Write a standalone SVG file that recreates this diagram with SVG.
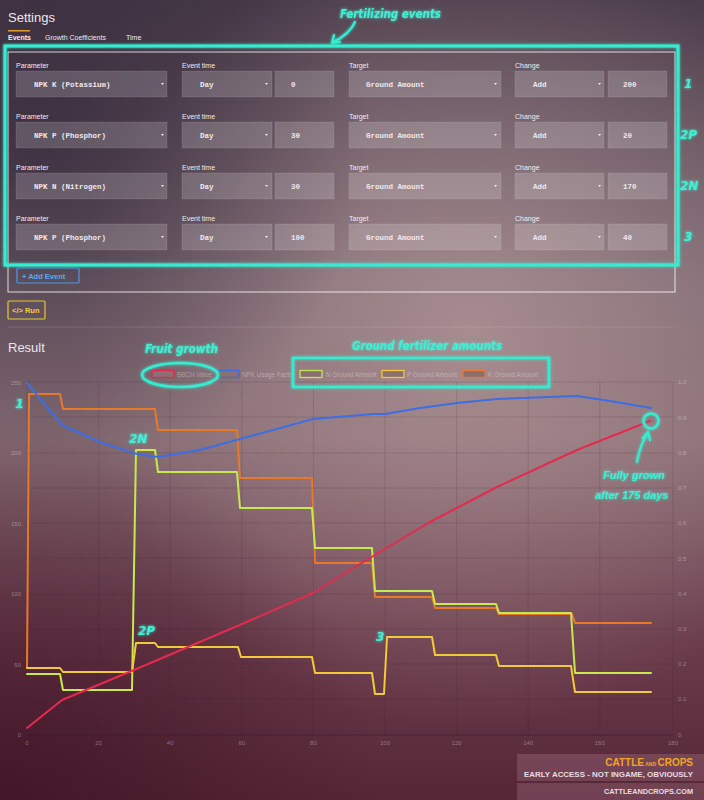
<svg xmlns="http://www.w3.org/2000/svg" width="704" height="800" viewBox="0 0 704 800">
<defs>
<linearGradient id="bgv" x1="0" y1="0" x2="0" y2="1">
<stop offset="0" stop-color="#4a3c4a"/>
<stop offset="0.35" stop-color="#7a6670"/>
<stop offset="0.55" stop-color="#846a72"/>
<stop offset="0.8" stop-color="#6a3c4c"/>
<stop offset="1" stop-color="#552636"/>
</linearGradient>
<radialGradient id="hl" cx="470" cy="330" r="400" gradientUnits="userSpaceOnUse">
<stop offset="0" stop-color="#c8aaa8" stop-opacity="0.55"/>
<stop offset="1" stop-color="#c8aaa8" stop-opacity="0"/>
</radialGradient>
<radialGradient id="tl" cx="40" cy="140" r="330" gradientUnits="userSpaceOnUse">
<stop offset="0" stop-color="#2a2032" stop-opacity="0.65"/>
<stop offset="1" stop-color="#2a2032" stop-opacity="0"/>
</radialGradient>
<radialGradient id="bl" cx="0" cy="800" r="380" gradientUnits="userSpaceOnUse">
<stop offset="0" stop-color="#3a1020" stop-opacity="0.7"/>
<stop offset="1" stop-color="#3a1020" stop-opacity="0"/>
</radialGradient>
<filter id="glow" x="-30%" y="-30%" width="160%" height="160%">
<feGaussianBlur in="SourceGraphic" stdDeviation="1.6" result="b"/>
<feMerge><feMergeNode in="b"/><feMergeNode in="SourceGraphic"/></feMerge>
</filter>
<style>
.lbl{font-family:"Liberation Sans",Arial,sans-serif;font-size:7px;fill:#f2eaee}
.fld{fill:#ffffff;fill-opacity:0.18;stroke:#ffffff;stroke-opacity:0.12;stroke-width:0.8}
.ftx{font-family:"Liberation Mono","DejaVu Sans Mono",monospace;font-size:7.5px;font-weight:bold;fill:#f0e8ec}
.dd{fill:#f0e8ec}
.ann{font-family:"DejaVu Sans",sans-serif;font-weight:bold;font-style:italic;fill:#40f0d4;filter:url(#glow)}
.annw{font-family:"Liberation Sans",Arial,sans-serif;font-size:11px;font-weight:bold;font-style:italic;fill:#40f0d4;filter:url(#glow)}
.cy{fill:none;stroke:#36ecd0;filter:url(#glow)}
.grid{stroke:#3a2030;stroke-opacity:0.22;stroke-width:0.7}
.ax{font-family:"Liberation Sans",Arial,sans-serif;font-size:6px;fill:#ffffff;fill-opacity:0.35}
.lg{font-family:"Liberation Sans",Arial,sans-serif;font-size:6.3px;fill:#ffffff;fill-opacity:0.35}
.line{fill:none;stroke-width:2;stroke-linejoin:round;stroke-linecap:round}
</style>
</defs>

<rect x="0" y="0" width="704" height="800" fill="url(#bgv)"/>
<rect x="0" y="0" width="704" height="800" fill="url(#hl)"/>
<rect x="0" y="0" width="704" height="800" fill="url(#tl)"/>
<rect x="0" y="0" width="704" height="800" fill="url(#bl)"/>

<g id="header">
<text x="8" y="22" font-family="Liberation Sans,Arial,sans-serif" font-size="13" fill="#eee6ec">Settings</text>
<text x="8" y="40" font-family="Liberation Sans,Arial,sans-serif" font-size="7" font-weight="bold" fill="#f4eef2">Events</text>
<rect x="8" y="30" width="22" height="1.5" fill="#e0a030"/>
<text x="45" y="40" font-family="Liberation Sans,Arial,sans-serif" font-size="7" fill="#f0e8ee">Growth Coefficients</text>
<text x="126" y="40" font-family="Liberation Sans,Arial,sans-serif" font-size="7" fill="#f0e8ee">Time</text>
</g>

<g id="events-panel">
<rect x="8" y="52" width="667" height="240" fill="none" stroke="#ffffff" stroke-opacity="0.8" stroke-width="1"/>
</g>

<g id="event-row-1">
<text class="lbl" x="16" y="68">Parameter</text><text class="lbl" x="182" y="68">Event time</text><text class="lbl" x="349" y="68">Target</text><text class="lbl" x="515" y="68">Change</text>
<rect class="fld" x="16" y="71" width="151" height="26"/><rect class="fld" x="182" y="71" width="90" height="26"/><rect class="fld" x="275" y="71" width="59" height="26"/><rect class="fld" x="349" y="71" width="152" height="26"/><rect class="fld" x="515" y="71" width="89" height="26"/><rect class="fld" x="608" y="71" width="59" height="26"/>
<text class="ftx" x="34" y="87">NPK K (Potassium)</text><text class="ftx" x="200" y="87">Day</text><text class="ftx" x="291" y="87">0</text><text class="ftx" x="366" y="87">Ground Amount</text><text class="ftx" x="533" y="87">Add</text><text class="ftx" x="623" y="87">200</text>
<path class="dd" d="M161 83h3l-1.5 2z M265 83h3l-1.5 2z M494 83h3l-1.5 2z M598 83h3l-1.5 2z"/>
</g>

<g id="event-row-2">
<text class="lbl" x="16" y="119">Parameter</text><text class="lbl" x="182" y="119">Event time</text><text class="lbl" x="349" y="119">Target</text><text class="lbl" x="515" y="119">Change</text>
<rect class="fld" x="16" y="122" width="151" height="26"/><rect class="fld" x="182" y="122" width="90" height="26"/><rect class="fld" x="275" y="122" width="59" height="26"/><rect class="fld" x="349" y="122" width="152" height="26"/><rect class="fld" x="515" y="122" width="89" height="26"/><rect class="fld" x="608" y="122" width="59" height="26"/>
<text class="ftx" x="34" y="138">NPK P (Phosphor)</text><text class="ftx" x="200" y="138">Day</text><text class="ftx" x="291" y="138">30</text><text class="ftx" x="366" y="138">Ground Amount</text><text class="ftx" x="533" y="138">Add</text><text class="ftx" x="623" y="138">20</text>
<path class="dd" d="M161 134h3l-1.5 2z M265 134h3l-1.5 2z M494 134h3l-1.5 2z M598 134h3l-1.5 2z"/>
</g>

<g id="event-row-3">
<text class="lbl" x="16" y="170">Parameter</text><text class="lbl" x="182" y="170">Event time</text><text class="lbl" x="349" y="170">Target</text><text class="lbl" x="515" y="170">Change</text>
<rect class="fld" x="16" y="173" width="151" height="26"/><rect class="fld" x="182" y="173" width="90" height="26"/><rect class="fld" x="275" y="173" width="59" height="26"/><rect class="fld" x="349" y="173" width="152" height="26"/><rect class="fld" x="515" y="173" width="89" height="26"/><rect class="fld" x="608" y="173" width="59" height="26"/>
<text class="ftx" x="34" y="189">NPK N (Nitrogen)</text><text class="ftx" x="200" y="189">Day</text><text class="ftx" x="291" y="189">30</text><text class="ftx" x="366" y="189">Ground Amount</text><text class="ftx" x="533" y="189">Add</text><text class="ftx" x="623" y="189">170</text>
<path class="dd" d="M161 185h3l-1.5 2z M265 185h3l-1.5 2z M494 185h3l-1.5 2z M598 185h3l-1.5 2z"/>
</g>

<g id="event-row-4">
<text class="lbl" x="16" y="221">Parameter</text><text class="lbl" x="182" y="221">Event time</text><text class="lbl" x="349" y="221">Target</text><text class="lbl" x="515" y="221">Change</text>
<rect class="fld" x="16" y="224" width="151" height="26"/><rect class="fld" x="182" y="224" width="90" height="26"/><rect class="fld" x="275" y="224" width="59" height="26"/><rect class="fld" x="349" y="224" width="152" height="26"/><rect class="fld" x="515" y="224" width="89" height="26"/><rect class="fld" x="608" y="224" width="59" height="26"/>
<text class="ftx" x="34" y="240">NPK P (Phosphor)</text><text class="ftx" x="200" y="240">Day</text><text class="ftx" x="291" y="240">100</text><text class="ftx" x="366" y="240">Ground Amount</text><text class="ftx" x="533" y="240">Add</text><text class="ftx" x="623" y="240">40</text>
<path class="dd" d="M161 236h3l-1.5 2z M265 236h3l-1.5 2z M494 236h3l-1.5 2z M598 236h3l-1.5 2z"/>
</g>

<g id="fertilizing-box">
<rect class="cy" x="5" y="46" width="673" height="219" stroke-width="3"/>
</g>

<g id="add-event-button">
<rect x="17" y="268" width="62" height="15" rx="1" fill="none" stroke="#4a9ae0" stroke-width="1.2"/>
<text x="22" y="278.5" font-family="Liberation Sans,Arial,sans-serif" font-size="7.5" font-weight="bold" fill="#5aaaf0">+ Add Event</text>
</g>

<g id="run-button">
<rect x="8" y="301" width="37" height="18" rx="1" fill="none" stroke="#e8c830" stroke-width="1.2"/>
<text x="12" y="313" font-family="Liberation Sans,Arial,sans-serif" font-size="7.5" font-weight="bold" fill="#f0d040">&lt;/&gt; Run</text>
</g>

<line x1="8" y1="327" x2="673" y2="327" stroke="#ffffff" stroke-opacity="0.12" stroke-width="1"/>
<text x="8" y="352" font-family="Liberation Sans,Arial,sans-serif" font-size="13" fill="#eee6ec">Result</text>

<g id="chart-grid">
<path class="grid" d="M27 382H673M27 417H673M27 453H673M27 488H673M27 523H673M27 558H673M27 594H673M27 629H673M27 664H673M27 699H673"/>
<path class="grid" d="M27 382V735M98.6 382V735M170.2 382V735M241.8 382V735M313.4 382V735M385 382V735M456.6 382V735M528.2 382V735M599.8 382V735M673 382V735"/>
<line x1="27" y1="735" x2="673" y2="735" stroke="#3a1828" stroke-opacity="0.5" stroke-width="1"/>
</g>

<g id="chart-axes">
<text class="ax" x="21" y="385" text-anchor="end">250</text>
<text class="ax" x="21" y="455" text-anchor="end">200</text>
<text class="ax" x="21" y="526" text-anchor="end">150</text>
<text class="ax" x="21" y="596" text-anchor="end">100</text>
<text class="ax" x="21" y="667" text-anchor="end">50</text>
<text class="ax" x="21" y="737" text-anchor="end">0</text>
<text class="ax" x="678" y="384">1.0</text>
<text class="ax" x="678" y="420">0.9</text>
<text class="ax" x="678" y="455">0.8</text>
<text class="ax" x="678" y="490">0.7</text>
<text class="ax" x="678" y="525">0.6</text>
<text class="ax" x="678" y="561">0.5</text>
<text class="ax" x="678" y="596">0.4</text>
<text class="ax" x="678" y="631">0.3</text>
<text class="ax" x="678" y="666">0.2</text>
<text class="ax" x="678" y="701">0.1</text>
<text class="ax" x="678" y="737">0</text>
<text class="ax" x="27" y="745" text-anchor="middle">0</text>
<text class="ax" x="98.6" y="745" text-anchor="middle">20</text>
<text class="ax" x="170.2" y="745" text-anchor="middle">40</text>
<text class="ax" x="241.8" y="745" text-anchor="middle">60</text>
<text class="ax" x="313.4" y="745" text-anchor="middle">80</text>
<text class="ax" x="385" y="745" text-anchor="middle">100</text>
<text class="ax" x="456.6" y="745" text-anchor="middle">120</text>
<text class="ax" x="528.2" y="745" text-anchor="middle">140</text>
<text class="ax" x="599.8" y="745" text-anchor="middle">160</text>
<text class="ax" x="673" y="745" text-anchor="middle">180</text>
</g>

<g id="chart-legend">
<rect x="152" y="370.5" width="22" height="7" fill="#8a7070" stroke="#e0284a" stroke-width="1.3"/>
<text class="lg" x="177" y="376.5">BBCH Value</text>
<rect x="219" y="370.5" width="20" height="7" fill="#8a7070" stroke="#3a6ee0" stroke-width="1.3"/>
<text class="lg" x="242" y="376.5">NPK Usage Factor</text>
<rect x="300" y="370.5" width="22" height="7" fill="#8a7070" stroke="#c0e850" stroke-width="1.3"/>
<text class="lg" x="326" y="376.5">N Ground Amount</text>
<rect x="382" y="370.5" width="22" height="7" fill="#8a7070" stroke="#f0c838" stroke-width="1.3"/>
<text class="lg" x="407" y="376.5">P Ground Amount</text>
<rect x="463" y="370.5" width="22" height="7" fill="#8a7070" stroke="#e8782a" stroke-width="1.3"/>
<text class="lg" x="488" y="376.5">K Ground Amount</text>
</g>

<g id="chart-series">
<polyline class="line" stroke="#e8782a" points="27,668 29,394 60,394 63,409 155,409 158,430 237,430 240,478 312,478 315,563 372,563 375,597 432,597 435,608 496,608 499,614 572,614 575,623 651,623"/>
<polyline class="line" stroke="#c4ea50" points="27,674 60,674 63,690 132,690 136,450 155,450 158,472 237,472 240,508 312,508 315,548 372,548 375,591 432,591 435,604 496,604 499,613 571,613 575,673 651,673"/>
<polyline class="line" stroke="#f2c93a" points="27,668 60,668 63,672 132,672 136,643 155,643 158,647 238,647 241,657 312,657 315,673 372,673 375,694 384,694 387,637 432,637 435,655 496,655 499,666 571,666 575,692 651,692"/>
<polyline class="line" stroke="#e42a50" points="27,728 62,700 134,670 242,624 313,593 350,570 385,549 430,522 497,487 577,450 650,421"/>
<polyline class="line" stroke="#3c6ee4" points="27,383 62,425 100,442 137,454 158,457 200,450 240,439 313,419 350,416 372,414 385,414 420,408 457,403 497,399 577,396 610,401 651,408"/>
</g>

<g id="watermark">
<rect x="517" y="754" width="187" height="27" fill="#d8a0b8" fill-opacity="0.22"/>
<rect x="517" y="783" width="187" height="17" fill="#d8a0b8" fill-opacity="0.22"/>
<text x="693" y="766" text-anchor="end" font-family="Liberation Sans,Arial,sans-serif" font-weight="bold" fill="#f2a428"><tspan font-size="10">CATTLE</tspan><tspan font-size="5"> AND </tspan><tspan font-size="10">CROPS</tspan></text>
<text x="524" y="777" textLength="169" lengthAdjust="spacingAndGlyphs" font-family="Liberation Sans,Arial,sans-serif" font-size="7" font-weight="bold" fill="#e8dce2">EARLY ACCESS - NOT INGAME, OBVIOUSLY</text>
<text x="604" y="794" textLength="89" lengthAdjust="spacingAndGlyphs" font-family="Liberation Sans,Arial,sans-serif" font-size="6.5" font-weight="bold" fill="#e8dce2">CATTLEANDCROPS.COM</text>
</g>

<g id="annotations">
<text class="ann" x="340" y="18" font-size="12" textLength="101" lengthAdjust="spacingAndGlyphs">Fertilizing events</text>
<text class="ann" x="684" y="88" font-size="12">1</text>
<text class="ann" x="680" y="139" font-size="12">2P</text>
<text class="ann" x="680" y="190" font-size="12">2N</text>
<text class="ann" x="684" y="241" font-size="12">3</text>
<text class="ann" x="145" y="353" font-size="12" textLength="73" lengthAdjust="spacingAndGlyphs">Fruit growth</text>
<text class="ann" x="352" y="350" font-size="12" textLength="150" lengthAdjust="spacingAndGlyphs">Ground fertilizer amounts</text>
<ellipse class="cy" cx="180" cy="375" rx="38" ry="12" stroke-width="2.5"/>
<rect class="cy" x="293" y="358" width="256" height="29" stroke-width="2.5"/>
<text class="ann" x="15" y="408" font-size="13">1</text>
<text class="ann" x="129" y="443" font-size="12">2N</text>
<text class="ann" x="138" y="635" font-size="12">2P</text>
<text class="ann" x="376" y="641" font-size="12">3</text>
<circle class="cy" cx="651" cy="421" r="7.5" stroke-width="2.5"/>
<text class="annw" x="603" y="479">Fully grown</text>
<text class="annw" x="595" y="499">after 175 days</text>
</g>

<g id="connectors">
<path class="cy" d="M355 22 Q350 34 332 43 M332 43 L334 35 M332 43 L340 42" stroke-width="2.2" stroke-linecap="round"/>
<path class="cy" d="M637 462 Q640 445 648 432 M648 432 L643 438 M648 432 L650 440" stroke-width="2.2" stroke-linecap="round"/>
</g>
</svg>
